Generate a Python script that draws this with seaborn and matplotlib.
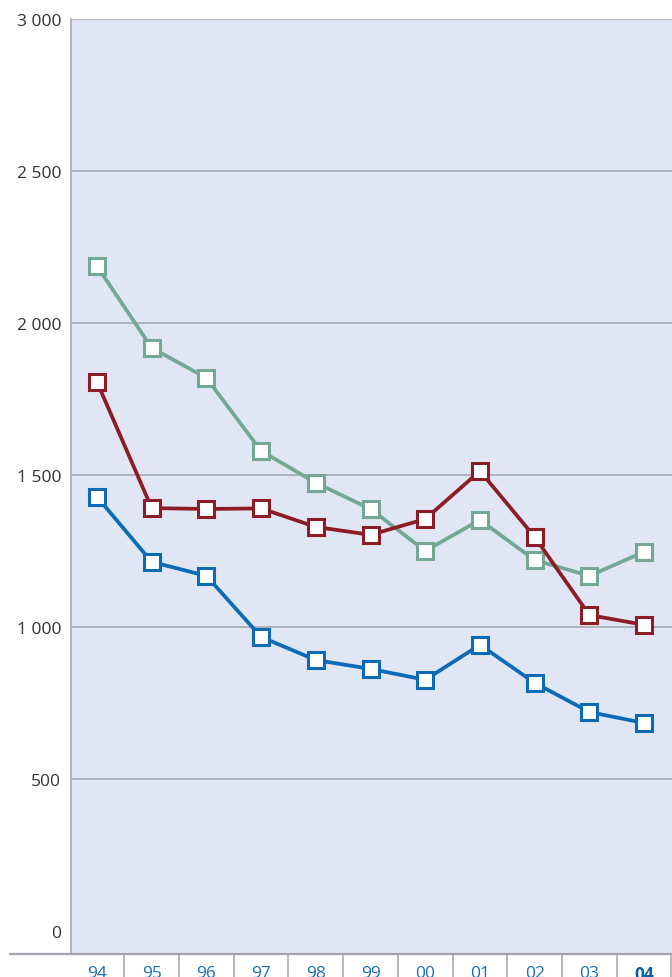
import numpy as np
import pandas as pd
import matplotlib
matplotlib.use("Agg")
import matplotlib.pyplot as plt
from matplotlib.lines import Line2D
import seaborn as sns

# Data
years = ["94", "95", "96", "97", "98", "99", "00", "01", "02", "03", "04"]
green_vals = [2187, 1918, 1819, 1579, 1474, 1388, 1250, 1352, 1220, 1168, 1247]
red_vals = [1806, 1391, 1388, 1390, 1329, 1303, 1355, 1513, 1296, 1039, 1007]
blue_vals = [1428, 1214, 1168, 967, 891, 862, 826, 941, 816, 720, 684]
y_ticks = [0, 500, 1000, 1500, 2000, 2500, 3000]
y_labels = ["0", "500", "1 000", "1 500", "2 000", "2 500", "3 000"]

series = [
    ("green", green_vals, "#72a894"),
    ("red", red_vals, "#8c1d27"),
    ("blue", blue_vals, "#0b6bb7"),
]

sns.set_style("white")
plt.rcParams["font.family"] = ["Open Sans", "DejaVu Sans"]

W, H = 672, 978
fig = plt.figure(figsize=(W / 100, H / 100), dpi=100)
ax_left = 71 / W
ax_top = 1 - 20 / H
ax_bottom = 1 - 955 / H
ax = fig.add_axes([ax_left, ax_bottom, 1 - ax_left, ax_top - ax_bottom])
ax.set_facecolor("#e1e6f4")

x = np.arange(len(years))

# gridlines
for t in y_ticks[1:]:
    ax.axhline(t, color="#a3a3ad", lw=1.1, zorder=1)

for name, vals, col in series:
    df = pd.DataFrame({"x": x, "y": vals})
    sns.lineplot(
        data=df, x="x", y="y", ax=ax, color=col, lw=2.7,
        marker="s", markersize=11, markerfacecolor="white",
        markeredgecolor=col, markeredgewidth=2.2, zorder=3,
    )

ax.set_xlim(-0.475, 10.51)
ax.set_ylim(-76, 3000)
ax.set_xlabel("")
ax.set_ylabel("")

ax.set_yticks(y_ticks)
ax.set_yticklabels(y_labels, fontsize=12.5, color="#333333")
ax.tick_params(axis="y", length=0, pad=7)

ax.set_xticks(x)
ax.set_xticklabels(years, fontsize=12.5, color="#1a6fb5")
ax.get_xticklabels()[-1].set_fontweight("bold")
ax.get_xticklabels()[-1].set_color("#0b5fa8")
ax.tick_params(axis="x", length=6, width=1, color="#a3a3ad", pad=2, direction="out")

for s in ["top", "right", "bottom"]:
    ax.spines[s].set_visible(False)
ax.spines["left"].set_color("#a3a3ad")
ax.spines["left"].set_linewidth(1.1)

# baseline extending left of the axes
y_base = 1 - 955 / H
fig.add_artist(Line2D([10 / W, 1], [y_base, y_base], transform=fig.transFigure,
                      color="#a3a3ad", lw=1.6))

# separators between categories below the axis
for i in range(len(years)):
    xs = ax.transData.transform((i + 0.5, 0))[0] / W
    if xs < 1:
        fig.add_artist(Line2D([xs, xs], [0, y_base], transform=fig.transFigure,
                              color="#a3a3ad", lw=1.1))

fig.savefig("out.png", dpi=100)
